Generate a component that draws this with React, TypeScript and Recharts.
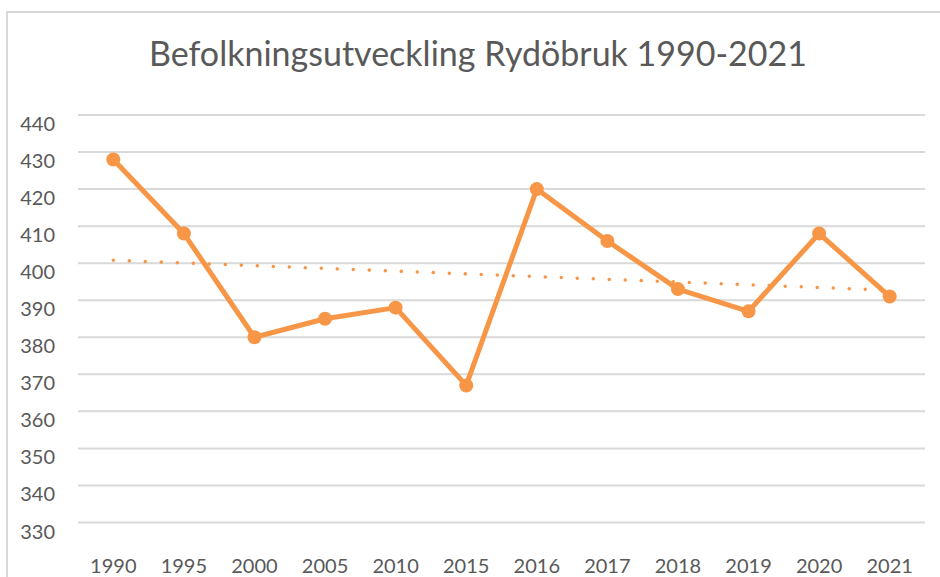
import { LineChart, Line, XAxis, YAxis, CartesianGrid, ReferenceLine } from 'recharts'

// Befolkning i Rydöbruk, läst från diagrammet
const years = ['1990', '1995', '2000', '2005', '2010', '2015', '2016', '2017', '2018', '2019', '2020', '2021']
const population = [428, 408, 380, 385, 388, 367, 420, 406, 393, 387, 408, 391]
const yTicks = [330, 340, 350, 360, 370, 380, 390, 400, 410, 420, 430, 440]

// linjär trendlinje (Excel), ändpunkter avlästa
const trendStart = 400.8
const trendEnd = 392.7

const ORANGE = '#F79646'
const GRID = '#D9D9D9'
const TEXT = '#595959'
const FONT = 'Lato, "Open Sans", sans-serif'

const data = years.map((year, i) => ({ year, pop: population[i] }))

function YTick({ x, y, payload }: any) {
  return (
    <text x={x - 23} y={y + 16} textAnchor="end" fill={TEXT} fontSize={20} fontFamily={FONT}>
      {payload.value}
    </text>
  )
}

function XTick({ x, y, payload }: any) {
  return (
    <text x={x} y={y + 50.5} textAnchor="middle" fill={TEXT} fontSize={20} fontFamily={FONT}>
      {payload.value}
    </text>
  )
}

export default function App() {
  return (
    <div style={{ position: 'absolute', left: 0, top: 0, width: 940, height: 577, overflow: 'hidden', background: '#fff' }}>
      {/* ram runt diagramytan, beskuren till höger och nedtill */}
      <div style={{ position: 'absolute', left: 6, top: 11, width: 1000, height: 700, borderLeft: `2px solid ${GRID}`, borderTop: `2px solid ${GRID}` }} />
      <div
        style={{
          position: 'absolute', left: 8, top: 36, width: 940, textAlign: 'center',
          fontFamily: FONT, fontSize: 34, lineHeight: '34px', color: TEXT,
        }}
      >
        Befolkningsutveckling Rydöbruk 1990-2021
      </div>
      <div style={{ position: 'absolute', left: 0, top: 0 }}>
        <LineChart width={940} height={577} data={data} margin={{ top: 115, right: 15, bottom: 14.5, left: 8 }}>
          <CartesianGrid vertical={false} stroke={GRID} strokeWidth={2} />
          <XAxis
            dataKey="year" height={40} axisLine={false} tickLine={false}
            tickSize={0} tickMargin={0} padding={{ left: 35.3, right: 35.3 }}
            tick={<XTick />} interval={0}
          />
          <YAxis
            width={70} domain={[330, 440]} ticks={yTicks} axisLine={false} tickLine={false}
            tickSize={0} tickMargin={0} tick={<YTick />} interval={0}
          />
          <ReferenceLine
            segment={[{ x: '1990', y: trendStart }, { x: '2021', y: trendEnd }]}
            stroke={ORANGE} strokeWidth={3.5} strokeDasharray="0.01 16" strokeLinecap="round"
          />
          <Line
            type="linear" dataKey="pop" stroke={ORANGE} strokeWidth={5}
            strokeLinejoin="round"
            dot={{ r: 7, fill: ORANGE, stroke: 'none' }}
            activeDot={false}
            isAnimationActive={false}
          />
        </LineChart>
      </div>
    </div>
  )
}
